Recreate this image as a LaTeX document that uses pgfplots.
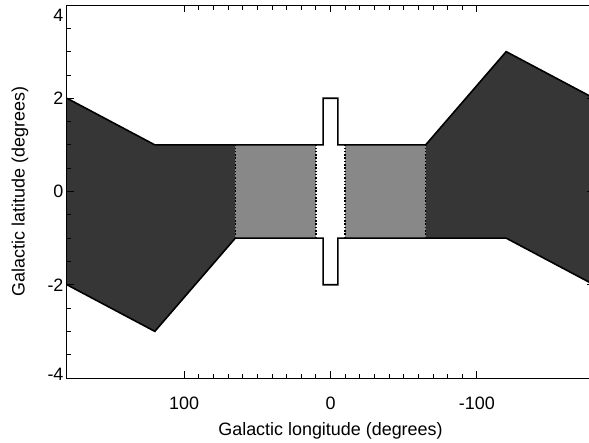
\documentclass[border=0pt]{standalone}
\usepackage{pgfplots}
\pgfplotsset{compat=1.18}
\usepackage{fontspec}
\setmainfont{Liberation Sans}
\definecolor{darkg}{RGB}{54,54,54}
\definecolor{midg}{RGB}{136,136,136}
\begin{document}
\begin{tikzpicture}[x=1bp,y=1bp]
\begin{axis}[
  at={(0,0)}, anchor=south west,
  scale only axis, width=527bp, height=373bp,
  x dir=reverse, xmin=-180, xmax=180, ymin=-4, ymax=4,
  xtick={-100,0,100}, minor x tick num=9,
  ytick={-4,-2,0,2,4}, minor y tick num=3,
  tick align=inside, major tick length=7bp, minor tick length=4.5bp,
  tick style={black, line width=0.8bp},
  axis line style={line width=1bp},
  /pgf/number format/assume math mode=true,
  tick label style={font=\fontsize{18}{21}\selectfont},
  xlabel={Galactic longitude (degrees)},
  ylabel={Galactic latitude (degrees)},
  xticklabel style={anchor=center, yshift=-25bp},
  every axis x label/.style={at={(axis description cs:0.5,0)}, anchor=center, yshift=-53bp, font=\fontsize{18}{21}\selectfont},
  every axis y label/.style={at={(axis description cs:0,0.5)}, xshift=-47bp, rotate=90, anchor=center, font=\fontsize{18}{21}\selectfont},
  yticklabels={\raisebox{4bp}[\height][\depth]{-4},-2,0,2,\raisebox{-10bp}[\height][\depth]{4}},
  axis on top,
]
\addplot[fill=darkg, draw=none] coordinates {(180,2)(120,1)(65,1)(65,-1)(120,-3)(180,-2)} -- cycle;
\addplot[fill=darkg, draw=none] coordinates {(-65,1)(-120,3)(-180,2)(-180,-2)(-120,-1)(-65,-1)} -- cycle;
\addplot[fill=midg, draw=none] coordinates {(65,-1)(65,1)(10,1)(10,-1)} -- cycle;
\addplot[fill=midg, draw=none] coordinates {(-10,-1)(-10,1)(-65,1)(-65,-1)} -- cycle;
\addplot[black, line width=1.6bp] coordinates {(180,2)(120,1)(5,1)(5,2)(-5,2)(-5,1)(-65,1)(-120,3)(-180,2)};
\addplot[black, line width=1.6bp] coordinates {(180,-2)(120,-3)(65,-1)(5,-1)(5,-2)(-5,-2)(-5,-1)(-120,-1)(-180,-2)};
\addplot[black, line width=1.3bp, dash pattern=on 1.5bp off 1.8bp] coordinates {(65,-1)(65,1)};
\addplot[black, line width=1.3bp, dash pattern=on 1.5bp off 1.8bp] coordinates {(10,-1)(10,1)};
\addplot[black, line width=1.3bp, dash pattern=on 1.5bp off 1.8bp] coordinates {(-10,-1)(-10,1)};
\addplot[black, line width=1.3bp, dash pattern=on 1.5bp off 1.8bp] coordinates {(-65,-1)(-65,1)};
\end{axis}
\pgfresetboundingbox
\useasboundingbox (-67bp,-65bp) rectangle (522bp,378bp);
\end{tikzpicture}
\end{document}
